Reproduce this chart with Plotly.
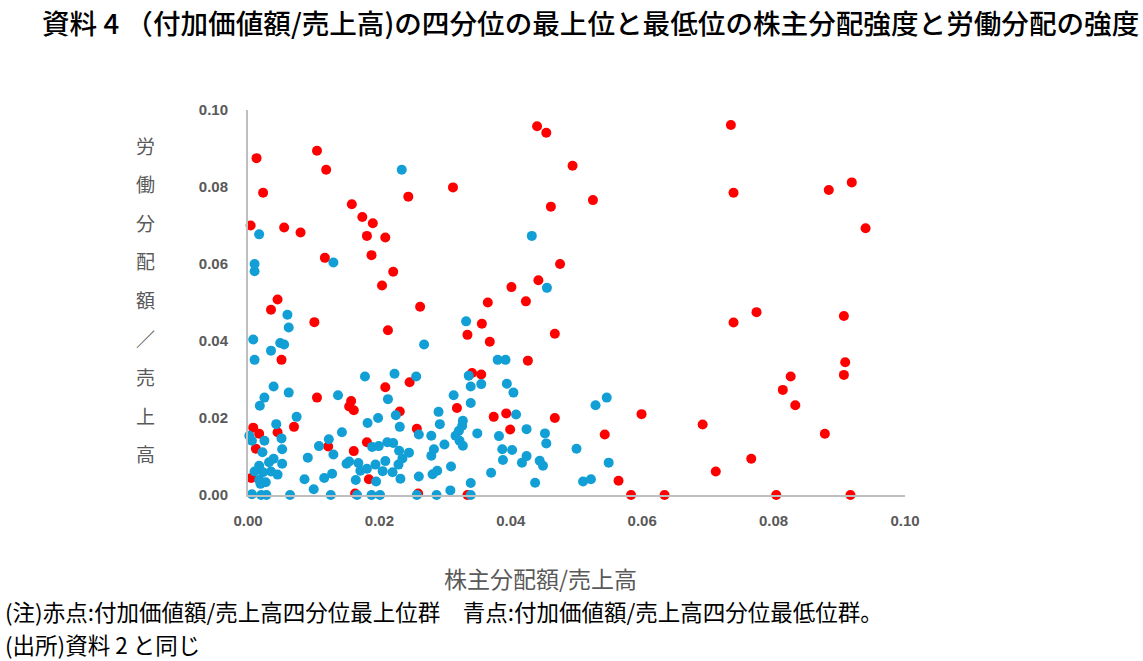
import plotly.graph_objects as go

# 赤点: 付加価値額/売上高 四分位最上位群
red_x = [0.0013, 0.0105, 0.0119, 0.0023, 0.0312, 0.0244, 0.0158, 0.0174, 0.0190, 0.0004,
         0.0055, 0.0080, 0.0181, 0.0209, 0.0117, 0.0188, 0.0221, 0.0204, 0.0045, 0.0262,
         0.0440, 0.0454, 0.0494, 0.0525, 0.0461, 0.0475, 0.0442, 0.0401, 0.0365, 0.0423,
         0.0735, 0.0739, 0.0884, 0.0919, 0.0940, 0.0774, 0.0739, 0.0907, 0.0909, 0.0907,
         0.0826, 0.0814, 0.0833, 0.0692, 0.0878, 0.0766, 0.0712, 0.0804, 0.0917, 0.0356,
         0.0334, 0.0467, 0.0368, 0.0426, 0.0341, 0.0355, 0.0318, 0.0374, 0.0393, 0.0399,
         0.0467, 0.0599, 0.0543, 0.0564, 0.0583, 0.0634, 0.0334, 0.0035, 0.0101, 0.0213,
         0.0051, 0.0209, 0.0246, 0.0105, 0.0157, 0.0154, 0.0161, 0.0231, 0.0070, 0.0008,
         0.0017, 0.0045, 0.0257, 0.0012, 0.0122, 0.0181, 0.0161, 0.0005, 0.0184, 0.0163,
         0.0259]
red_y = [0.0875, 0.0894, 0.0845, 0.0785, 0.0799, 0.0775, 0.0755, 0.0722, 0.0706, 0.0700,
         0.0695, 0.0682, 0.0673, 0.0669, 0.0616, 0.0623, 0.0580, 0.0544, 0.0508, 0.0489,
         0.0958, 0.0941, 0.0855, 0.0766, 0.0749, 0.0600, 0.0558, 0.0540, 0.0500, 0.0503,
         0.0961, 0.0785, 0.0792, 0.0812, 0.0693, 0.0475, 0.0448, 0.0465, 0.0345, 0.0312,
         0.0308, 0.0273, 0.0233, 0.0183, 0.0159, 0.0094, 0.0061, 0.0000, 0.0000, 0.0445,
         0.0416, 0.0419, 0.0398, 0.0349, 0.0317, 0.0313, 0.0226, 0.0203, 0.0212, 0.0170,
         0.0200, 0.0210, 0.0157, 0.0037, 0.0000, 0.0000, 0.0000, 0.0481, 0.0449, 0.0428,
         0.0351, 0.0280, 0.0293, 0.0253, 0.0244, 0.0230, 0.0220, 0.0217, 0.0177, 0.0175,
         0.0159, 0.0163, 0.0172, 0.0120, 0.0126, 0.0137, 0.0114, 0.0044, 0.0041, 0.0004,
         0.0004]

# 青点: 付加価値額/売上高 四分位最低位群
blue_x = [0.0234, 0.0017, 0.0010, 0.0010, 0.0130, 0.0432, 0.0455,
          0.0332, 0.0380, 0.0392, 0.0336, 0.0339, 0.0355, 0.0394, 0.0404, 0.0339, 0.0408,
          0.0327, 0.0349, 0.0424, 0.0382, 0.0452, 0.0454, 0.0387, 0.0402, 0.0500, 0.0424,
          0.0388, 0.0417, 0.0444, 0.0449, 0.0549, 0.0529, 0.0546, 0.0370, 0.0437, 0.0510,
          0.0522, 0.0339, 0.0339,
          0.0060, 0.0062, 0.0008, 0.0035, 0.0049, 0.0055, 0.0010, 0.0268, 0.0178, 0.0223,
          0.0256, 0.0039, 0.0062, 0.0025, 0.0018, 0.0137, 0.0213, 0.0313, 0.0074, 0.0225,
          0.0290, 0.0198, 0.0182, 0.0231, 0.0292, 0.0043, 0.0143, 0.0002, 0.0006, 0.0025,
          0.0051, 0.0052, 0.0022, 0.0260, 0.0279, 0.0123, 0.0108, 0.0130, 0.0189, 0.0199,
          0.0212, 0.0221, 0.0230, 0.0245, 0.0235, 0.0299, 0.0279, 0.0283, 0.0316, 0.0321,
          0.0326, 0.0322, 0.0327, 0.0091, 0.0039, 0.0032, 0.0052, 0.0017, 0.0010, 0.0023,
          0.0035, 0.0045, 0.0017, 0.0027, 0.0019, 0.0154, 0.0150, 0.0168, 0.0171, 0.0181,
          0.0194, 0.0209, 0.0205, 0.0220, 0.0229, 0.0232, 0.0164, 0.0195, 0.0128, 0.0116,
          0.0086, 0.0100, 0.0260, 0.0281, 0.0288, 0.0309, 0.0308, 0.0006, 0.0020, 0.0028,
          0.0064, 0.0126, 0.0166, 0.0188, 0.0201, 0.0257, 0.0287]
blue_y = [0.0845, 0.0677, 0.0600, 0.0581, 0.0604, 0.0673, 0.0538,
          0.0451, 0.0351, 0.0351, 0.0310, 0.0282, 0.0288, 0.0289, 0.0266, 0.0239, 0.0209,
          0.0193, 0.0160, 0.0171, 0.0153, 0.0160, 0.0134, 0.0119, 0.0117, 0.0120, 0.0101,
          0.0091, 0.0084, 0.0089, 0.0076, 0.0084, 0.0233, 0.0253, 0.0058, 0.0032, 0.0035,
          0.0041, 0.0031, 0.0000,
          0.0468, 0.0435, 0.0404, 0.0375, 0.0395, 0.0391, 0.0351, 0.0391, 0.0308, 0.0315,
          0.0308, 0.0282, 0.0266, 0.0253, 0.0232, 0.0259, 0.0249, 0.0259, 0.0203, 0.0207,
          0.0216, 0.0200, 0.0187, 0.0177, 0.0184, 0.0184, 0.0163, 0.0154, 0.0141, 0.0141,
          0.0147, 0.0119, 0.0111, 0.0157, 0.0154, 0.0145, 0.0127, 0.0105, 0.0125, 0.0127,
          0.0137, 0.0135, 0.0115, 0.0110, 0.0095, 0.0131, 0.0102, 0.0119, 0.0154, 0.0167,
          0.0180, 0.0141, 0.0128, 0.0097, 0.0094, 0.0085, 0.0081, 0.0076, 0.0061, 0.0059,
          0.0061, 0.0053, 0.0039, 0.0033, 0.0029, 0.0087, 0.0081, 0.0083, 0.0063, 0.0068,
          0.0079, 0.0088, 0.0062, 0.0059, 0.0079, 0.0042, 0.0039, 0.0035, 0.0055, 0.0044,
          0.0041, 0.0015, 0.0048, 0.0054, 0.0063, 0.0074, 0.0012, 0.0002, 0.0000, 0.0000,
          0.0000, 0.0000, 0.0000, 0.0000, 0.0000, 0.0000, 0.0000]

tick_vals = [0.00, 0.02, 0.04, 0.06, 0.08, 0.10]
tick_text = ["0.00", "0.02", "0.04", "0.06", "0.08", "0.10"]

title_text = "資料 4 （付加価値額/売上高)の四分位の最上位と最低位の株主分配強度と労働分配の強度"
x_title = "株主分配額/売上高"
y_title_chars = ["労", "働", "分", "配", "額", "／", "売", "上", "高"]
note1 = "(注)赤点:付加価値額/売上高四分位最上位群　青点:付加価値額/売上高四分位最低位群。"
note2 = "(出所)資料 2 と同じ"

W, H = 1143, 661
L, R, T, B = 248, 238, 110, 166
PW, PH = W - L - R, H - T - B

def px(xp):
    return (xp - L) / PW

def py(yp):
    return (H - B - yp) / PH

CJK = "Noto Sans CJK JP"
GRAY = "#595959"

fig = go.Figure()
fig.add_trace(go.Scatter(x=red_x, y=red_y, mode="markers", cliponaxis=False,
                         marker=dict(color="#FF0000", size=10, line=dict(width=0)),
                         name="赤点"))
fig.add_trace(go.Scatter(x=blue_x, y=blue_y, mode="markers", cliponaxis=False,
                         marker=dict(color="#129FD6", size=10, line=dict(width=0)),
                         name="青点"))

axis_common = dict(range=[0, 0.10], tickvals=tick_vals, ticktext=tick_text,
                   showgrid=False, zeroline=False, showline=True,
                   linecolor="#BFBFBF", linewidth=2, ticks="",
                   tickfont=dict(family="Liberation Sans", size=15, color=GRAY, weight="bold"))
fig.update_xaxes(**axis_common, ticklabelstandoff=11)
fig.update_yaxes(**axis_common, ticklabelstandoff=15)

annotations = [
    dict(text=title_text, x=px(40), y=py(22), xanchor="left", yanchor="middle",
         font=dict(family=CJK, size=27.6, color="#000000", weight=500)),
    dict(text=x_title, x=px(540), y=py(578), xanchor="center", yanchor="middle",
         font=dict(family=CJK, size=23, color=GRAY)),
    dict(text=note1, x=px(4), y=py(611), xanchor="left", yanchor="middle", borderpad=0,
         font=dict(family=CJK, size=22.5, color="#000000")),
    dict(text=note2, x=px(4), y=py(644), xanchor="left", yanchor="middle", borderpad=0,
         font=dict(family=CJK, size=22.5, color="#000000")),
]
for i, ch in enumerate(y_title_chars):
    annotations.append(dict(text=ch, x=px(145), y=py(145 + i * 38.6),
                            xanchor="center", yanchor="middle",
                            font=dict(family=CJK, size=19, color=GRAY)))
for a in annotations:
    a.update(xref="paper", yref="paper", showarrow=False)

fig.update_layout(width=W, height=H, margin=dict(l=L, r=R, t=T, b=B),
                  plot_bgcolor="white", paper_bgcolor="white",
                  showlegend=False, annotations=annotations)

fig.write_html("out.html", config={"displayModeBar": False},
               post_script="document.body.style.margin='0';document.body.style.overflow='hidden';")
